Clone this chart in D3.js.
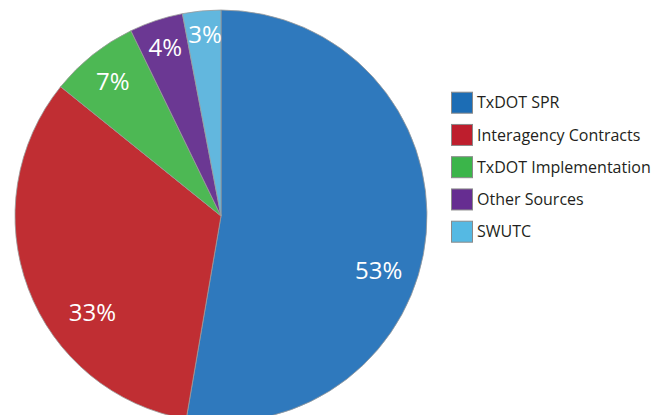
<!DOCTYPE html>
<html>
<head>
<meta charset="utf-8">
<script src="https://cdn.jsdelivr.net/npm/d3@7"></script>
<style>
  html, body { margin: 0; padding: 0; background: #fff; }
  svg { display: block; }
</style>
</head>
<body>
<svg id="chart" width="665" height="415"></svg>
<script>
// ---- data ----
const categories = ["TxDOT SPR", "Interagency Contracts", "TxDOT Implementation", "Other Sources", "SWUTC"];
const values = [52.7, 33.1, 7.0, 4.2, 3.0];
const labels = ["53%", "33%", "7%", "4%", "3%"];

// ---- styles / layout ----
const sliceColors = ["#2F79BD", "#C02E33", "#4DB854", "#6B3893", "#62B7DE"];
const swatchColors = ["#1C6DB5", "#BE1E2D", "#3BB54A", "#662D91", "#55B9E3"];
// label placement: [angle offset from slice mid (deg), radius as fraction of R]
const labelPlacement = [[14.3, 0.81], [-16.2, 0.78], [-0.2, 0.84], [0, 0.86], [0.4, 0.885]];

const W = 665, H = 415;
const cx = 221, cy = 216, R = 206;
const svg = d3.select("#chart");

const pie = d3.pie().sort(null).value(d => d)(values);
const arc = d3.arc().innerRadius(0).outerRadius(R);

const g = svg.append("g").attr("transform", `translate(${cx},${cy})`);
g.selectAll("path.slice").data(pie).join("path")
  .attr("class", "slice")
  .attr("d", arc)
  .attr("fill", (d, i) => sliceColors[i])
  .attr("stroke", "#9a9a9a")
  .attr("stroke-width", 0.8);

g.selectAll("text.lbl").data(pie).join("text")
  .attr("class", "lbl")
  .attr("transform", (d, i) => {
    const a = (d.startAngle + d.endAngle) / 2 + labelPlacement[i][0] * Math.PI / 180;
    const r = R * labelPlacement[i][1];
    return `translate(${r * Math.sin(a)},${-r * Math.cos(a)})`;
  })
  .attr("text-anchor", "middle")
  .attr("dy", "0.36em")
  .attr("fill", "#fff")
  .attr("font-family", "'Open Sans', sans-serif")
  .attr("font-size", 24)
  .text((d, i) => labels[i]);

// ---- legend ----
const legY = d3.scalePoint().domain(categories).range([102.7, 231.7]);
const leg = svg.append("g");
const items = leg.selectAll("g.item").data(categories).join("g")
  .attr("class", "item")
  .attr("transform", d => `translate(451,${legY(d)})`);
items.append("rect")
  .attr("x", 0.5).attr("y", -10.5)
  .attr("width", 21).attr("height", 21)
  .attr("fill", (d, i) => swatchColors[i])
  .attr("stroke", "#8a8a8a")
  .attr("stroke-width", 1);
items.append("text")
  .attr("x", 26)
  .attr("dy", "0.35em")
  .attr("fill", "#231f20")
  .attr("font-family", "'Open Sans', sans-serif")
  .attr("font-size", 16)
  .text(d => d);
</script>
</body>
</html>
